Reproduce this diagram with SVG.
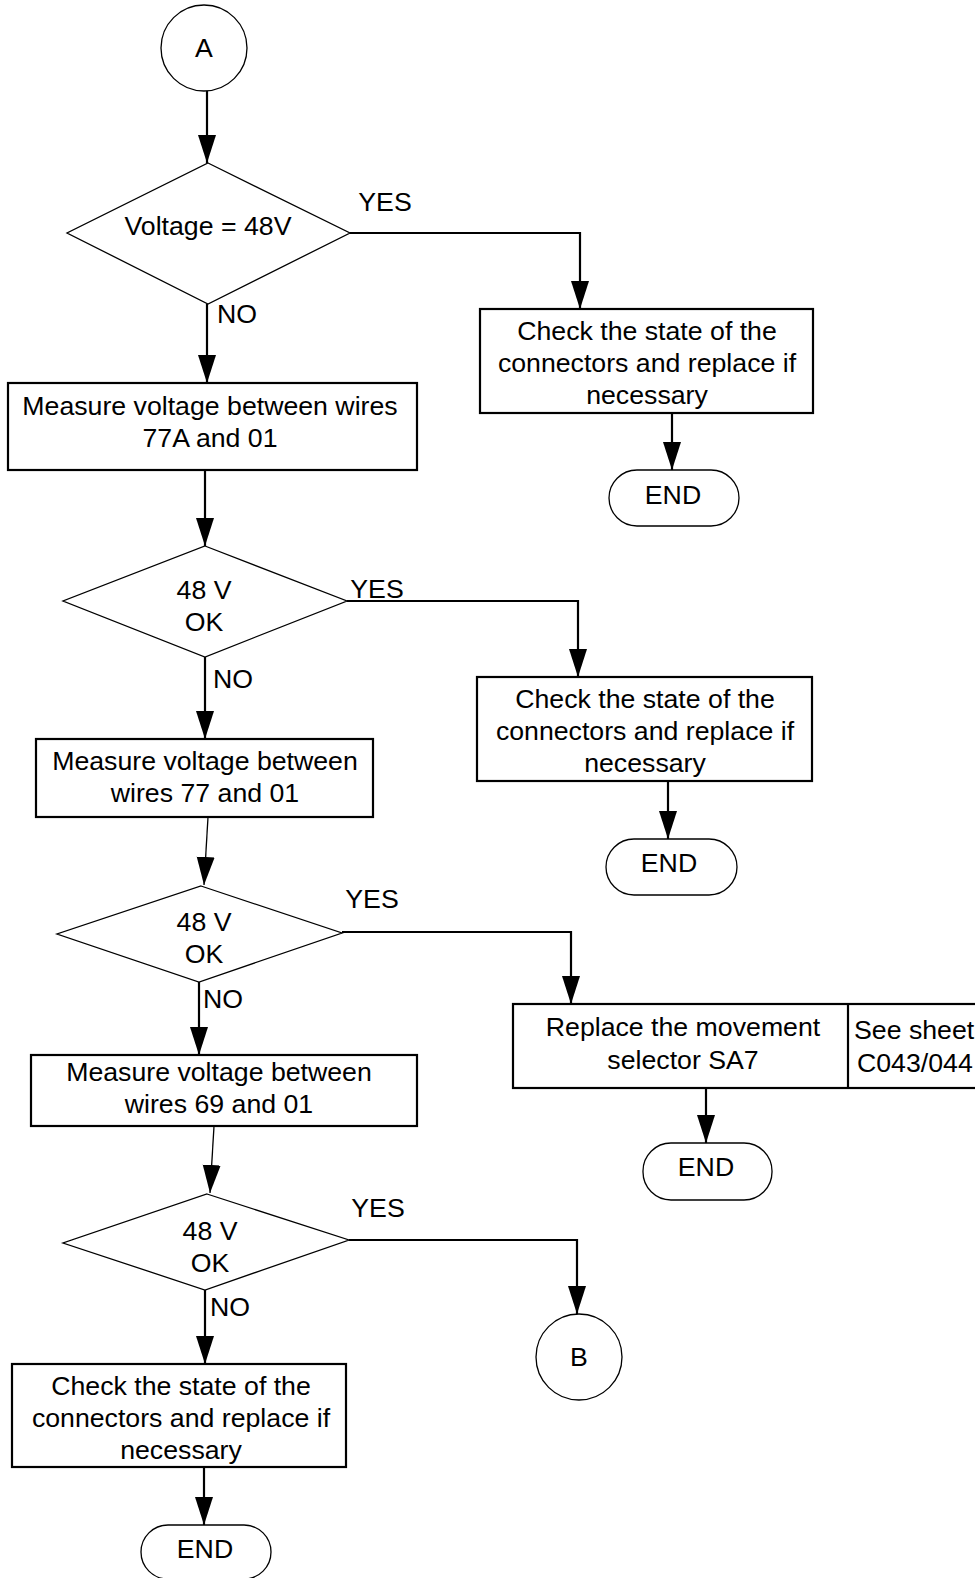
<svg xmlns="http://www.w3.org/2000/svg" width="975" height="1578" viewBox="0 0 975 1578">
<defs>
<marker id="arr" markerUnits="userSpaceOnUse" markerWidth="30" markerHeight="20" refX="28" refY="9" orient="auto">
<path d="M0,0 L28,9 L0,18 z" fill="#000"/>
</marker>
<style>
text{font-family:"Liberation Sans",Arial,sans-serif;font-size:26.7px;fill:#000;text-anchor:middle}
.l{text-anchor:start}
.box{fill:#fff;stroke:#000;stroke-width:2.2}
.thin{fill:#fff;stroke:#000;stroke-width:1.3}
.c{fill:none;stroke:#000;stroke-width:2.2}
.ca{fill:none;stroke:#000;stroke-width:2.2;marker-end:url(#arr)}
.cs{fill:none;stroke:#000;stroke-width:1.3;marker-end:url(#arr)}
</style>
</defs>
<rect width="975" height="1578" fill="#fff"/>

<g id="connectors">
<path class="ca" d="M207,91 V163"/>
<path class="ca" d="M350,233 H580 V309"/>
<path class="ca" d="M207,304 V383"/>
<path class="ca" d="M672,413 V470"/>
<path class="ca" d="M205,470 V546"/>
<path class="ca" d="M347,601 H578 V677"/>
<path class="ca" d="M205,657 V739"/>
<path class="ca" d="M668,781 V839"/>
<path class="cs" d="M208,817 L204,885"/>
<path class="ca" d="M342,932 H571 V1004"/>
<path class="ca" d="M199,982 V1055"/>
<path class="ca" d="M706,1088 V1143"/>
<path class="cs" d="M214,1126 L210,1193"/>
<path class="ca" d="M349,1240 H577 V1314"/>
<path class="ca" d="M205,1290 V1364"/>
<path class="ca" d="M204,1467 V1525"/>
</g>

<g id="labels">
<text x="385" y="211">YES</text>
<text class="l" x="217" y="323">NO</text>
<text x="377" y="598">YES</text>
<text class="l" x="213" y="688">NO</text>
<text x="372" y="908">YES</text>
<text class="l" x="203" y="1008">NO</text>
<text x="378" y="1217">YES</text>
<text class="l" x="210" y="1316">NO</text>
</g>

<g id="startA">
<circle class="thin" cx="204" cy="48" r="43"/>
<text x="204" y="57">A</text>
</g>

<g id="d1">
<polygon class="thin" points="208,163 350,233 208,304 67,233"/>
<text x="208" y="235">Voltage = 48V</text>
</g>

<g id="r1">
<rect class="box" x="480" y="309" width="333" height="104"/>
<text x="647" y="340">Check the state of the</text>
<text x="647" y="372">connectors and replace if</text>
<text x="647" y="404">necessary</text>
</g>

<g id="end1">
<rect class="thin" x="609" y="470" width="130" height="56" rx="28" ry="28"/>
<text x="673" y="504">END</text>
</g>

<g id="b1">
<rect class="box" x="8" y="383" width="409" height="87"/>
<text x="210" y="415">Measure voltage between wires</text>
<text x="210" y="447">77A and 01</text>
</g>

<g id="d2">
<polygon class="thin" points="205,546 347,601 205,657 63,601"/>
<text x="204" y="599">48 V</text>
<text x="204" y="631">OK</text>
</g>

<g id="r2">
<rect class="box" x="477" y="677" width="335" height="104"/>
<text x="645" y="708">Check the state of the</text>
<text x="645" y="740">connectors and replace if</text>
<text x="645" y="772">necessary</text>
</g>

<g id="end2">
<rect class="thin" x="606" y="839" width="131" height="56" rx="28" ry="28"/>
<text x="669" y="872">END</text>
</g>

<g id="b2">
<rect class="box" x="36" y="739" width="337" height="78"/>
<text x="205" y="770">Measure voltage between</text>
<text x="205" y="802">wires 77 and 01</text>
</g>

<g id="d3">
<polygon class="thin" points="201,886 342,933 199,982 57,934"/>
<text x="204" y="931">48 V</text>
<text x="204" y="963">OK</text>
</g>

<g id="r3">
<rect class="box" x="513" y="1004" width="480" height="84"/>
<line class="c" x1="848" y1="1004" x2="848" y2="1088"/>
<text x="683" y="1036">Replace the movement</text>
<text x="683" y="1069">selector SA7</text>
<text class="l" x="854" y="1039">See sheet</text>
<text class="l" x="857" y="1072">C043/044</text>
</g>

<g id="end3">
<rect class="thin" x="643" y="1143" width="129" height="57" rx="28" ry="28"/>
<text x="706" y="1176">END</text>
</g>

<g id="b3">
<rect class="box" x="31" y="1055" width="386" height="71"/>
<text x="219" y="1081">Measure voltage between</text>
<text x="219" y="1113">wires 69 and 01</text>
</g>

<g id="d4">
<polygon class="thin" points="207,1194 349,1240 205,1290 63,1243"/>
<text x="210" y="1240">48 V</text>
<text x="210" y="1272">OK</text>
</g>

<g id="endB">
<circle class="thin" cx="579" cy="1357" r="43"/>
<text x="579" y="1366">B</text>
</g>

<g id="b4">
<rect class="box" x="12" y="1364" width="334" height="103"/>
<text x="181" y="1395">Check the state of the</text>
<text x="181" y="1427">connectors and replace if</text>
<text x="181" y="1459">necessary</text>
</g>

<g id="end4">
<rect class="thin" x="141" y="1525" width="130" height="54" rx="27" ry="27"/>
<text x="205" y="1558">END</text>
</g>
</svg>
